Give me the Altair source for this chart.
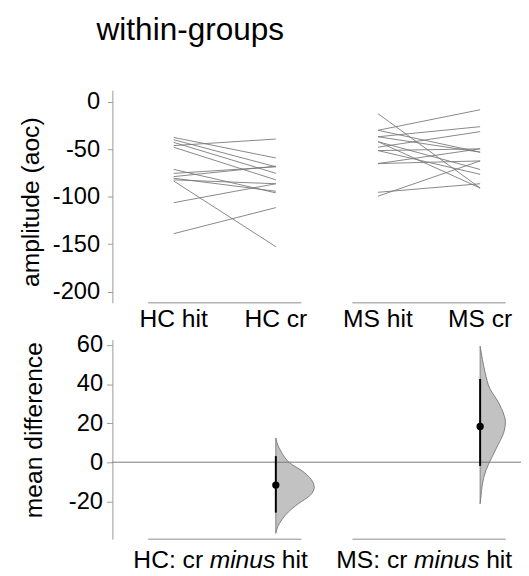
import altair as alt
import pandas as pd

# ---------------- data ----------------
CONDITIONS = ["HC hit", "HC cr", "MS hit", "MS cr"]
COND_POS = [1, 2, 3, 4]

# paired observations (top panel), one value per subject
HC_HIT = [-37.7, -46.3, -40.1, -42.9, -48.0, -71.3, -78.9, -75.5, -80.6, -82.3, -83.5, -106.3, -138.9]
HC_CR = [-59.3, -39.4, -68.6, -75.4, -82.3, -96.0, -67.9, -68.6, -94.3, -86.4, -152.6, -86.4, -111.5]
MS_HIT = [-12.7, -30.2, -30.2, -37.0, -37.0, -42.2, -48.0, -51.5, -51.5, -65.2, -65.2, -95.4, -99.5, -42.2]
MS_CR = [-90.9, -8.6, -53.2, -26.4, -53.2, -71.4, -31.6, -49.7, -76.5, -62.4, -49.7, -86.4, -62.4, -90.9]

# effect sizes (bottom panel)
CONTRASTS = ["HC", "MS"]
CONTRAST_POS = [2, 4]
CONTRAST_CENTER = [1.5, 3.5]
MEAN_DIFF = [-11.7, 18.3]
CI_LOW = [-25.8, -1.9]
CI_HIGH = [3.1, 42.6]

# bootstrap distribution outlines (value, half-width in x units)
HC_DIST_V = [12.4, 8.8, 4.8, -0.3, -5.3, -10.3, -12.9, -16.9, -21.3, -25.5, -29.5, -33.0, -36.4]
HC_DIST_W = [0.0, 0.019, 0.058, 0.135, 0.280, 0.363, 0.376, 0.337, 0.219, 0.122, 0.058, 0.019, 0.0]
MS_DIST_V = [59.4, 52.7, 46.0, 37.6, 30.9, 24.1, 20.8, 15.7, 9.0, 2.3, -4.4, -11.2, -17.9, -21.3]
MS_DIST_W = [0.0, 0.022, 0.048, 0.096, 0.176, 0.234, 0.248, 0.234, 0.176, 0.113, 0.055, 0.022, 0.007, 0.0]

GROUP_START = [0.75, 2.75]
GROUP_END = [2.25, 4.25]

TOP_TICKS = [0, -50, -100, -150, -200]
BOT_TICKS = [60, 40, 20, 0, -20]
TOP_DOMAIN = [-211.6, 12.0]
BOT_DOMAIN = [-39.4, 62.8]

TITLE = "within-groups"

# ---------------- layout ----------------
W, H = 415, 456
TOP_PX = 216
BOT_TOP_PX = 253.3
FONT = "Liberation Sans"

# ---------------- tables ----------------
rows = []
sid = 0
for hit, cr, p0 in [(HC_HIT, HC_CR, 1), (MS_HIT, MS_CR, 3)]:
    for a, b in zip(hit, cr):
        rows.append({"id": sid, "x": p0, "v": a})
        rows.append({"id": sid, "x": p0 + 1, "v": b})
        sid += 1
lines_df = pd.DataFrame(rows)

vrows = []
for name, base, vs, ws in [("HC", CONTRAST_POS[0], HC_DIST_V, HC_DIST_W),
                           ("MS", CONTRAST_POS[1], MS_DIST_V, MS_DIST_W)]:
    for v, w in zip(vs, ws):
        vrows.append({"grp": name, "v": v, "x0": base, "x1": base + w})
violin_df = pd.DataFrame(vrows).sort_values(["grp", "v"])

eff_df = pd.DataFrame({"grp": CONTRASTS, "x": CONTRAST_POS, "m": MEAN_DIFF,
                       "lo": CI_LOW, "hi": CI_HIGH, "c": CONTRAST_CENTER,
                       "first": [g + ": cr" for g in CONTRASTS],
                       "mid": ["minus"] * 2, "last": ["hit"] * 2})
cond_df = pd.DataFrame({"name": CONDITIONS, "pos": COND_POS})
span_top = pd.DataFrame({"a": GROUP_START, "b": GROUP_END, "f": [TOP_DOMAIN[0]] * 2})
span_bot = pd.DataFrame({"a": GROUP_START, "b": GROUP_END, "f": [BOT_DOMAIN[0]] * 2})
zero_df = pd.DataFrame({"z": [0]})
title_df = pd.DataFrame({"t": [TITLE]})

# ---------------- scales / axes ----------------
xs = alt.Scale(domain=[0.4, 4.4], nice=False, zero=False)
ys_top = alt.Scale(domain=TOP_DOMAIN, range=[TOP_PX, 0], nice=False, zero=False)
ys_bot = alt.Scale(domain=BOT_DOMAIN, range=[H, BOT_TOP_PX], nice=False, zero=False)

common_y = dict(labelFontSize=24, labelColor="black", tickColor="#999999",
                domainColor="#999999", grid=False, orient="left", labelOverlap=False,
                titleFontSize=25, titleFontWeight="normal", titleColor="black",
                titleAngle=270, titleBaseline="bottom", titleAlign="center",
                labelExpr="'' + datum.value")
top_y_axis = alt.Axis(values=TOP_TICKS, title="amplitude (aoc)", titleX=-70, titleY=113.3,
                      tickSize=5, labelPadding=8, **common_y)
bot_y_axis = alt.Axis(values=BOT_TICKS, title="mean difference", titleX=-67, titleY=344.8,
                      tickSize=6, labelPadding=4, **common_y)

# ---------------- layers ----------------
lines = alt.Chart(lines_df).mark_line(color="#7a7a7a", strokeWidth=1, opacity=0.9).encode(
    x=alt.X("x:Q", scale=xs, axis=None),
    y=alt.Y("v:Q", scale=ys_top, axis=top_y_axis),
    detail="id:N",
)

spines_top = alt.Chart(span_top).mark_rule(color="#b3b3b3", strokeWidth=1.5).encode(
    x=alt.X("a:Q", scale=xs, axis=None), x2="b:Q",
    y=alt.Y("f:Q", scale=ys_top, axis=None),
)

COND_LBL_Y = 241
cond_lbl = alt.Chart(cond_df).mark_text(fontSize=25, font=FONT, color="black",
                                        align="center", baseline="alphabetic").encode(
    x=alt.X("pos:Q", scale=xs, axis=None), y=alt.value(COND_LBL_Y), text="name:N")

violins = alt.Chart(violin_df).mark_area(
    orient="horizontal", interpolate="monotone", fill="#c2c2c2",
    stroke="#808080", strokeWidth=1, fillOpacity=1
).encode(
    y=alt.Y("v:Q", scale=ys_bot, axis=None),
    x=alt.X("x0:Q", scale=xs, axis=None), x2="x1:Q",
    detail="grp:N",
)

zero = alt.Chart(zero_df).mark_rule(color="#7a7a7a", strokeWidth=1).encode(
    y=alt.Y("z:Q", scale=ys_bot, axis=bot_y_axis),
)

ci = alt.Chart(eff_df).mark_rule(color="black", strokeWidth=2).encode(
    x=alt.X("x:Q", scale=xs, axis=None),
    y=alt.Y("lo:Q", scale=ys_bot, axis=None), y2="hi:Q",
)

pts = alt.Chart(eff_df).mark_circle(color="black", size=55, opacity=1).encode(
    x=alt.X("x:Q", scale=xs, axis=None),
    y=alt.Y("m:Q", scale=ys_bot, axis=None),
)

spines_bot = alt.Chart(span_bot).mark_rule(color="#b3b3b3", strokeWidth=1.5).encode(
    x=alt.X("a:Q", scale=xs, axis=None), x2="b:Q",
    y=alt.Y("f:Q", scale=ys_bot, axis=None),
)

LBL_Y = 485
lbl_kw = dict(fontSize=25, font=FONT, color="black", baseline="alphabetic")
lbl1 = alt.Chart(eff_df).mark_text(align="right", dx=-22, **lbl_kw).encode(
    x=alt.X("c:Q", scale=xs, axis=None), y=alt.value(LBL_Y), text="first:N")
lbl2 = alt.Chart(eff_df).mark_text(align="center", dx=18, fontStyle="italic", **lbl_kw).encode(
    x=alt.X("c:Q", scale=xs, axis=None), y=alt.value(LBL_Y), text="mid:N")
lbl3 = alt.Chart(eff_df).mark_text(align="left", dx=58, **lbl_kw).encode(
    x=alt.X("c:Q", scale=xs, axis=None), y=alt.value(LBL_Y), text="last:N")

title = alt.Chart(title_df).mark_text(align="left", baseline="alphabetic", fontSize=32,
                                      font=FONT, color="black").encode(
    x=alt.value(-16), y=alt.value(-51), text="t:N")

chart = alt.layer(
    lines, spines_top, cond_lbl, violins, zero, ci, pts, spines_bot,
    lbl1, lbl2, lbl3, title
).resolve_scale(y="independent").properties(
    width=W, height=H,
    autosize=alt.AutoSizeParams(type="none"),
    padding={"left": 106, "top": 79, "right": 0, "bottom": 33},
).configure(font=FONT).configure_view(stroke=None)

chart.save("out.html", embed_options={"renderer": "svg", "actions": False})
